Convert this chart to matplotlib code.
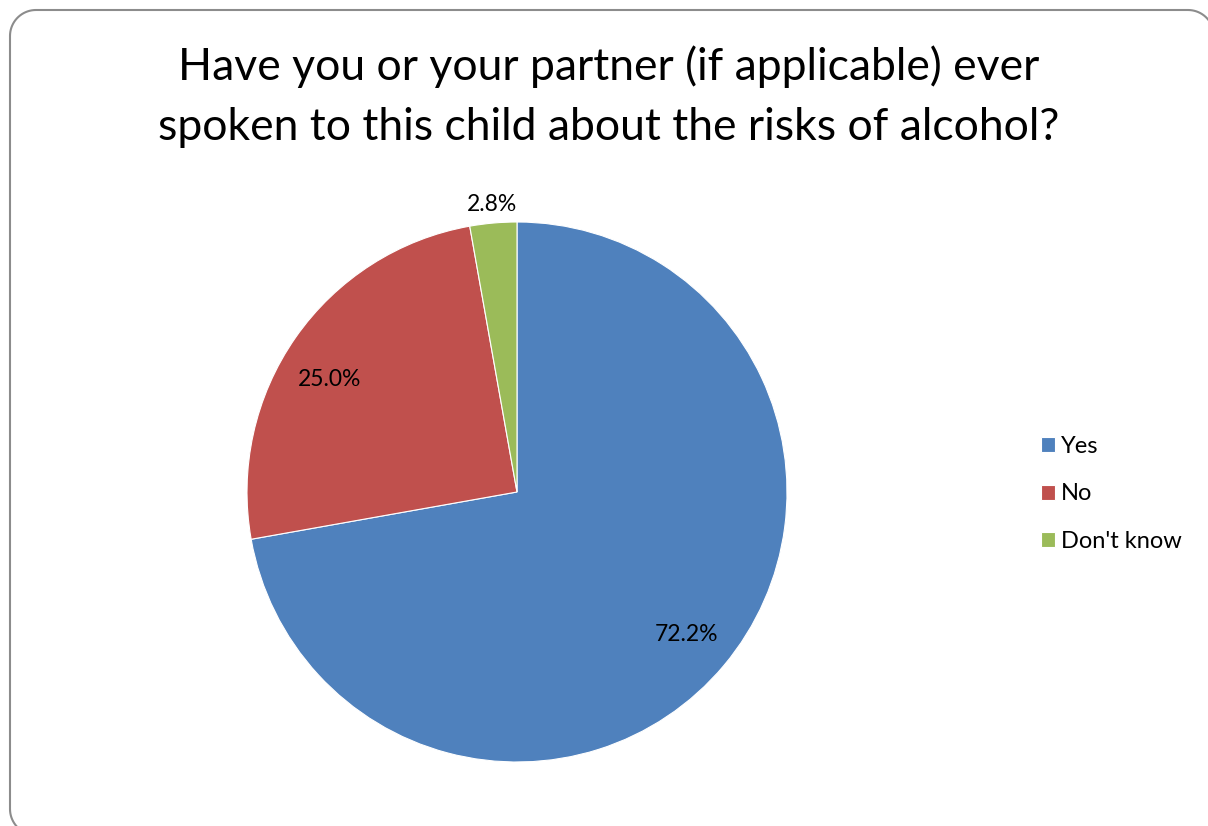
import matplotlib
matplotlib.use("Agg")
import matplotlib.pyplot as plt
import numpy as np
from matplotlib.patches import PathPatch
from matplotlib.path import Path
from matplotlib.transforms import IdentityTransform

# ── Data ───────────────────────────────────────────────────────────────
TITLE = ("Have you or your partner (if applicable) ever\n"
         "spoken to this child about the risks of alcohol?")
labels = ["Yes", "No", "Don't know"]
shares = [72.2, 25.0, 2.8]
colors = ["#4F81BD", "#C0504D", "#9BBB59"]

plt.rcParams["font.family"] = ["Lato", "DejaVu Sans"]

W, H = 1208, 826
fig = plt.figure(figsize=(W / 100, H / 100), dpi=100)


# ── Chart-area border: rounded corners, right/bottom run off canvas ─────
def border_path(left, right, top, bottom, rad):
    def arc(xc, yc, a0, a1):
        t = np.linspace(a0, a1, 20)
        return np.column_stack([xc + rad * np.cos(t), yc + rad * np.sin(t)])
    pts = np.vstack([
        [[left + rad + 40, bottom]],
        arc(left + rad, bottom + rad, -np.pi / 2, -np.pi),       # bottom-left
        arc(left + rad, top - rad, np.pi, np.pi / 2),            # top-left
        arc(right - rad, top - rad, np.pi / 2, 0),               # top-right
        [[right, bottom - 20]],
    ])
    return Path(pts)


frame = PathPatch(border_path(10, 1214, H - 10, -9, 26),
                  transform=IdentityTransform(), facecolor="none",
                  edgecolor="#8c8c8c", linewidth=1.5, zorder=-10)
fig.patches.append(frame)

fig.text(609 / W, 1 - 97 / H, TITLE, ha="center", va="center",
         fontsize=32, linespacing=1.58)

cx, cy, r = 517, H - 492, 270
ax = fig.add_axes([(cx - r) / W, (cy - r) / H, 2 * r / W, 2 * r / H])
wedges, _, autotexts = ax.pie(
    shares, colors=colors, startangle=90, counterclock=False,
    autopct="%.1f%%", pctdistance=0.81,
    wedgeprops=dict(edgecolor="white", linewidth=0.8),
    textprops=dict(fontsize=16.5, color="black"),
)
# label placement tweaks: (distance from centre, angle shift in degrees)
tweaks = [(0.82, 0.0), (0.81, 4.0), (1.07, 0.0)]
for w, t, (dist, shift) in zip(wedges, autotexts, tweaks):
    ang = np.deg2rad((w.theta1 + w.theta2) / 2 + shift)
    t.set_position((dist * np.cos(ang), dist * np.sin(ang)))
ax.set_xlim(-1, 1)
ax.set_ylim(-1, 1)
ax.set_aspect("equal")
ax.axis("off")

fig.legend(wedges, labels, loc="center left",
           bbox_to_anchor=(1029 / W, 1 - 494 / H), frameon=False,
           fontsize=17, handlelength=0.6, handleheight=0.6,
           handletextpad=0.25, labelspacing=1.13, borderpad=0)

fig.savefig("out.png", dpi=100)
